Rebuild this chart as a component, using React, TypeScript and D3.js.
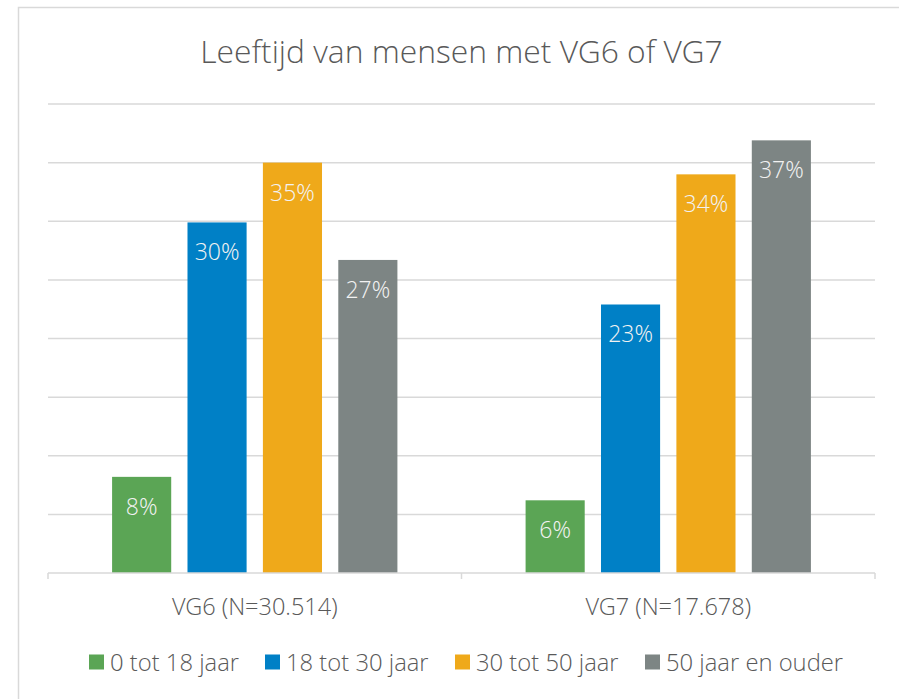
import { useMemo } from "react";
import * as d3 from "d3";

const WIDTH = 899;
const HEIGHT = 699;
const MARGIN = { top: 104, right: 24, bottom: 126, left: 48 };

const groups = ["VG6 (N=30.514)", "VG7 (N=17.678)"];
const ageClasses = ["0 tot 18 jaar", "18 tot 30 jaar", "30 tot 50 jaar", "50 jaar en ouder"];
const vg6Values = [8.2, 29.9, 35.0, 26.7];
const vg7Values = [6.2, 22.9, 34.0, 36.9];
const gridTicks = [0, 5, 10, 15, 20, 25, 30, 35, 40];
const COLORS = ["#5ba555", "#0080c6", "#efa91a", "#7d8584"];

const FONT = "'Open Sans Light', 'Open Sans', 'Segoe UI', sans-serif";

const App = () => {
  const boundsWidth = WIDTH - MARGIN.left - MARGIN.right;
  const boundsHeight = HEIGHT - MARGIN.top - MARGIN.bottom;

  const data = groups.map((g, i) => ({
    group: g,
    values: i === 0 ? vg6Values : vg7Values,
  }));

  const xScale = useMemo(
    () => d3.scaleBand().domain(groups).range([0, boundsWidth]).padding(0),
    [boundsWidth]
  );

  // inner band for the 4 age classes inside each group
  const subScale = useMemo(
    () =>
      d3
        .scaleBand()
        .domain(ageClasses)
        .range([0, xScale.bandwidth()])
        .paddingInner(0.216)
        .paddingOuter(0.85),
    [xScale]
  );

  const yScale = useMemo(
    () => d3.scaleLinear().domain([0, 40]).range([boundsHeight, 0]),
    [boundsHeight]
  );

  const colorScale = d3.scaleOrdinal<string>().domain(ageClasses).range(COLORS);

  const grid = gridTicks.slice(1).map((t) => (
    <line
      key={t}
      x1={0}
      x2={boundsWidth}
      y1={yScale(t)}
      y2={yScale(t)}
      stroke="#d9d9d9"
      strokeWidth={1.5}
    />
  ));

  const bars = data.map((d) => (
    <g key={d.group} transform={`translate(${xScale(d.group)},0)`}>
      {d.values.map((v, j) => {
        const x = subScale(ageClasses[j]) || 0;
        return (
          <g key={j}>
            <rect
              x={x}
              y={yScale(v)}
              width={subScale.bandwidth()}
              height={boundsHeight - yScale(v)}
              fill={colorScale(ageClasses[j])}
            />
            <text
              x={x + subScale.bandwidth() / 2}
              y={yScale(v) + 29}
              textAnchor="middle"
              dominantBaseline="central"
              fontSize={23}
              fontWeight={300}
              fill="#f2f2f2"
            >
              {Math.round(v)}%
            </text>
          </g>
        );
      })}
    </g>
  ));

  const axisTicks = [0, ...groups.map((g) => (xScale(g) || 0) + xScale.bandwidth())];

  // legend layout
  const legendX = [89, 265, 455, 645];

  return (
    <div style={{ position: "absolute", left: 0, top: 0 }}>
      <svg width={WIDTH} height={HEIGHT} style={{ display: "block", fontFamily: FONT }}>
        <rect x={0} y={0} width={WIDTH} height={HEIGHT} fill="#ffffff" />
        <rect
          x={18.5}
          y={7.5}
          width={WIDTH + 10}
          height={HEIGHT + 10}
          fill="none"
          stroke="#d9d9d9"
          strokeWidth={1.5}
        />
        <text
          x={MARGIN.left + boundsWidth / 2}
          y={50}
          textAnchor="middle"
          dominantBaseline="central"
          fontSize={31.8}
          fontWeight={300}
          fill="#595959"
        >
          Leeftijd van mensen met VG6 of VG7
        </text>
        <g transform={`translate(${MARGIN.left},${MARGIN.top})`}>
          <g>{grid}</g>
          <g>{bars}</g>
          <line x1={0} x2={boundsWidth} y1={boundsHeight} y2={boundsHeight} stroke="#d9d9d9" strokeWidth={1.5} />
          {axisTicks.map((t, i) => (
            <line key={i} x1={t} x2={t} y1={boundsHeight} y2={boundsHeight + 6} stroke="#d9d9d9" strokeWidth={1.5} />
          ))}
          {groups.map((g) => (
            <text
              key={g}
              x={(xScale(g) || 0) + xScale.bandwidth() / 2}
              y={boundsHeight + 33}
              textAnchor="middle"
              dominantBaseline="central"
              fontSize={23.5}
              fontWeight={300}
              fill="#595959"
            >
              {g}
            </text>
          ))}
        </g>
        <g>
          {ageClasses.map((a, i) => (
            <g key={a} transform={`translate(${legendX[i]},662)`}>
              <rect x={0} y={-7.5} width={15} height={15} fill={colorScale(a)} />
              <text x={21} y={0} dominantBaseline="central" fontSize={23.8} fontWeight={300} fill="#595959">
                {a}
              </text>
            </g>
          ))}
        </g>
      </svg>
    </div>
  );
};

export default App;
